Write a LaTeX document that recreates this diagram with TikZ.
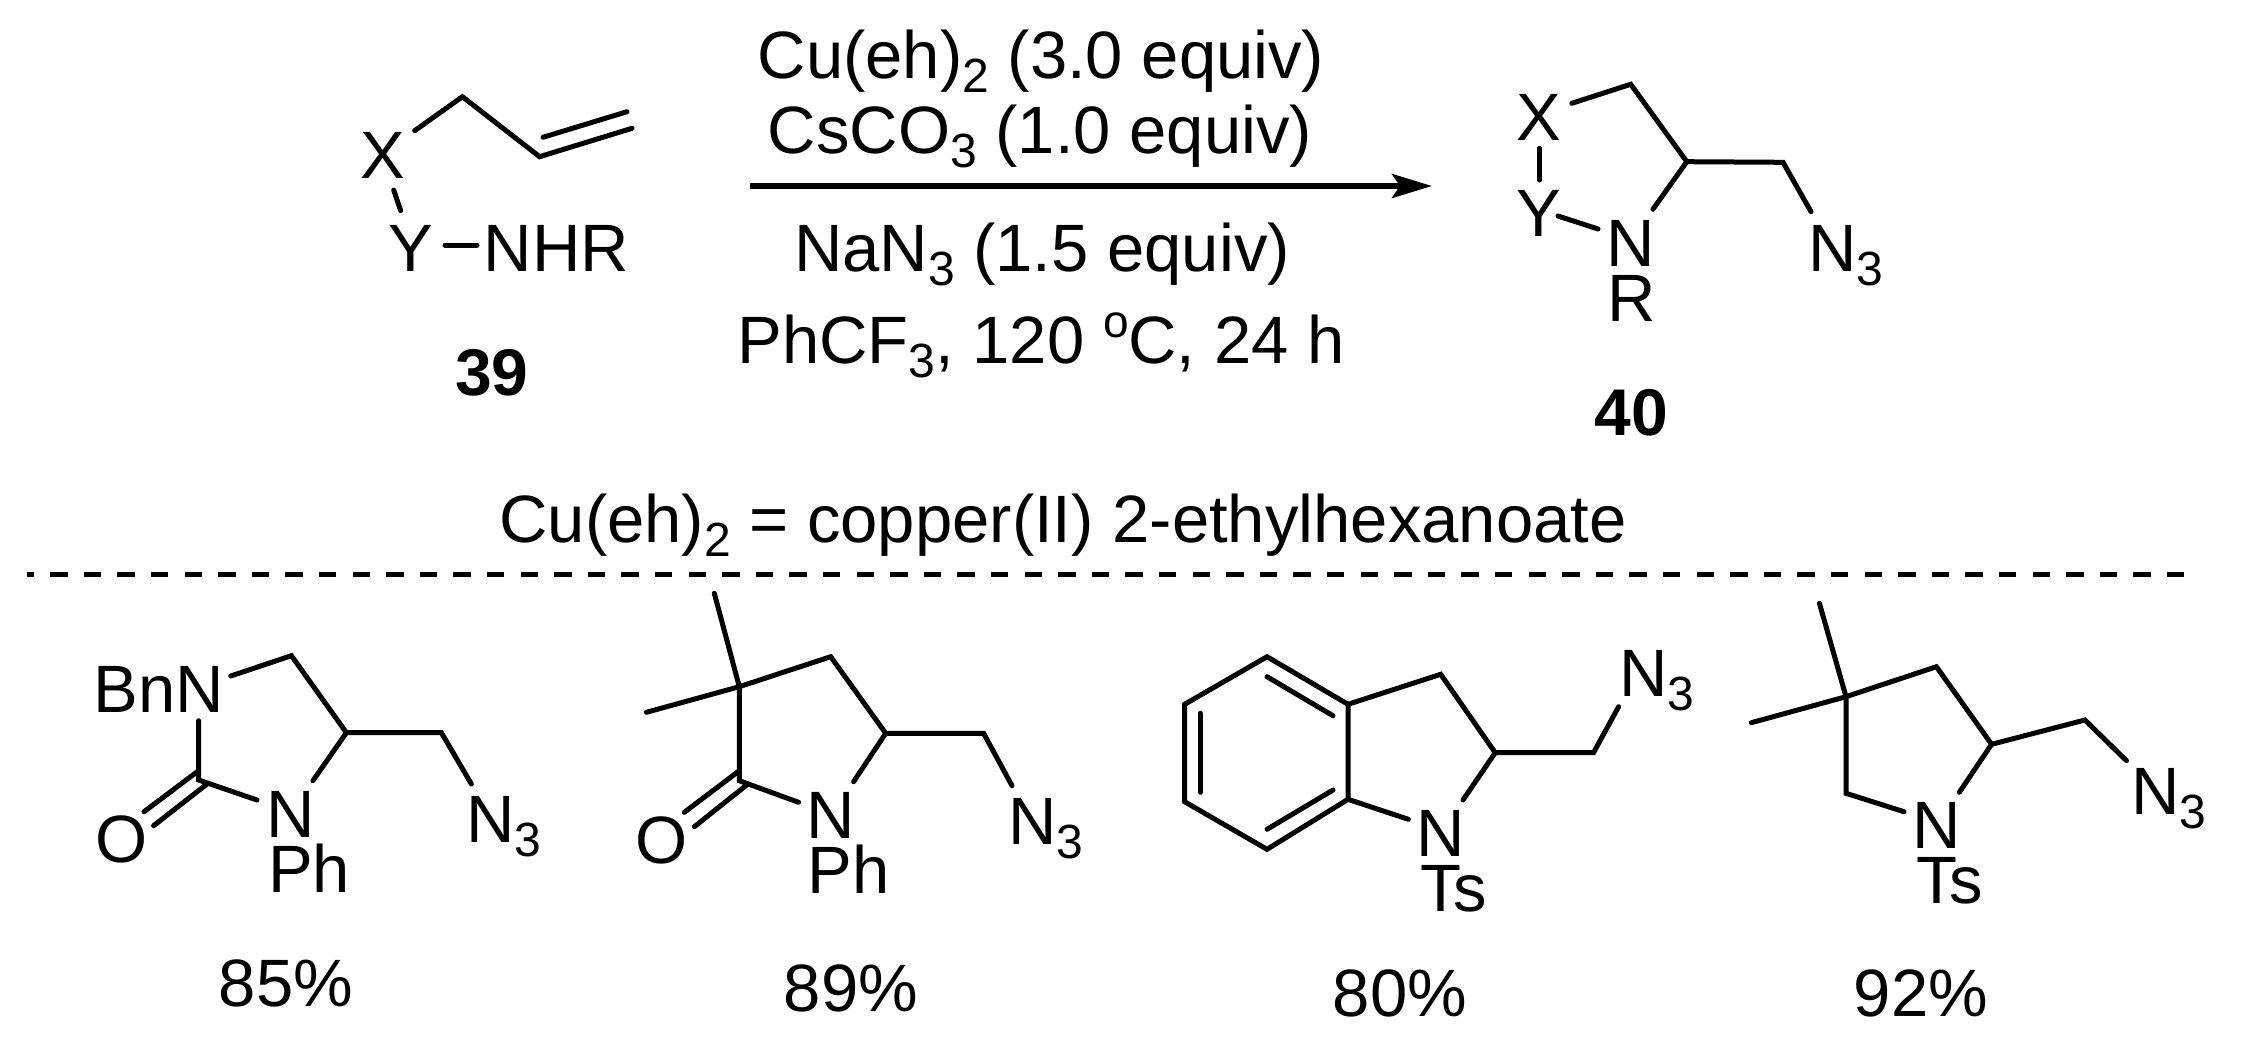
\documentclass[tikz,border=0pt]{standalone}
\usepackage{fontspec}
\setmainfont{Liberation Sans}
\usetikzlibrary{arrows.meta}
\newcommand{\subs}[1]{\raisebox{-14pt}{\fontsize{48}{48}\selectfont #1}}
\newcommand{\degr}{\raisebox{26pt}{\fontsize{46}{46}\selectfont o}}
\tikzset{
  lbl/.style={inner sep=0pt,outer sep=0pt,anchor=base,font=\fontsize{67}{67}\selectfont},
  lblw/.style={lbl,anchor=base west},
  cmpd/.style={lbl,font=\fontsize{66}{66}\selectfont\bfseries},
  bond/.style={line width=5pt,line cap=round,line join=miter,black},
  rxn/.style={line width=5.6pt,-{Stealth[length=40pt,width=24pt,inset=8pt]}},
  sep/.style={line width=5.3pt,dash pattern=on 17.5pt off 16.1pt,dash phase=10.5pt}
}
\begin{document}
\begin{tikzpicture}[x=1pt,y=-1pt]
\useasboundingbox (0,0) rectangle (2245,1050);
\fill[white] (0,0) rectangle (2245,1050);

% --- reactant 39
\node[lbl] (x39) at (383,178) {X};
\node[lbl] (y39) at (411,271) {Y};
\node[lbl] (nhr) at (556.5,271) {NHR};
\node[cmpd] (c39) at (492,395) {39};
\coordinate (a1) at (414.7,130.7);
\coordinate (a2) at (462.4,96.7);
\coordinate (a3) at (539.6,156.7);
\coordinate (a4) at (632,128.3);
\coordinate (a5) at (543,137.3);
\coordinate (a6) at (627,111.7);
\coordinate (a7) at (393.7,190);
\coordinate (a8) at (400.7,210.7);
\coordinate (a9) at (445,245);
\coordinate (a10) at (477,245);
\draw[bond] (a1) -- (a2) -- (a3) -- (a4);
\draw[bond] (a5) -- (a6);
\draw[bond] (a7) -- (a8);
\draw[bond] (a9) -- (a10);

% --- conditions
\node[lbl] (t1) at (1041,78) {Cu(eh)\subs{2} (3.0 equiv)};
\node[lbl] (t2) at (1040,153) {CsCO\subs{3} (1.0 equiv)};
\node[lbl] (t3) at (1042,271) {NaN\subs{3} (1.5 equiv)};
\node[lbl] (t4) at (1041,363) {PhCF\subs{3}, 120 \degr C, 24 h};
\coordinate (r1) at (750,186);
\coordinate (r2) at (1432,186);
\draw[rxn] (r1) -- (r2);

% --- product 40
\node[lbl] (x40) at (1539,140.7) {X};
\node[lbl] (y40) at (1539,236.7) {Y};
\node[lbl] (n40) at (1630.5,266) {N};
\node[lbl] (r40) at (1632,321) {R};
\node[lblw] (az40) at (1808,271) {N\subs{3}};
\node[cmpd] (c40) at (1631,435) {40};
\coordinate (b1) at (1571.8,103.3);
\coordinate (b2) at (1630.7,84.3);
\coordinate (b3) at (1686.8,161.7);
\coordinate (b4) at (1783,162.3);
\coordinate (b5) at (1811,211.7);
\coordinate (b6) at (1652.9,209.3);
\coordinate (b7) at (1539.6,148.3);
\coordinate (b8) at (1539.6,180);
\coordinate (b9) at (1558,216);
\coordinate (b10) at (1598,229);
\draw[bond] (b1) -- (b2) -- (b3) -- (b4) -- (b5);
\draw[bond] (b3) -- (b6);
\draw[bond] (b7) -- (b8);
\draw[bond] (b9) -- (b10);

% --- footnote and separator
\node[lbl] (note) at (1063,542.5) {Cu(eh)\subs{2} = copper(II) 2-ethylhexanoate};
\coordinate (s1) at (27,574.3);
\coordinate (s2) at (2183.5,574.3);
\draw[sep] (s1) -- (s2);

% --- substrate 1
\node[lbl] (bnn) at (159,712.7) {BnN};
\node[lbl] (o1) at (122,862) {O};
\node[lbl] (n1) at (291,837) {N};
\node[lbl] (ph1) at (309,892) {Ph};
\node[lblw] (az1) at (466,842.7) {N\subs{3}};
\node[lbl] (y1) at (286,1006) {85\%};
\coordinate (c1) at (230.7,676);
\coordinate (c2) at (291.4,655.7);
\coordinate (c3) at (346.4,732.7);
\coordinate (c4) at (441.4,732.7);
\coordinate (c5) at (471.4,784);
\coordinate (c6) at (312.9,780.7);
\coordinate (c7) at (198.6,720.7);
\coordinate (c8) at (198.6,780);
\coordinate (c9) at (257,800);
\coordinate (c10) at (198.6,770.7);
\coordinate (c11) at (144,811.7);
\coordinate (c12) at (207,784);
\coordinate (c13) at (153.6,825.7);
\draw[bond] (c1) -- (c2) -- (c3) -- (c4) -- (c5);
\draw[bond] (c3) -- (c6);
\draw[bond] (c7) -- (c8) -- (c9);
\draw[bond] (c10) -- (c11);
\draw[bond] (c12) -- (c13);

% --- substrate 2
\node[lbl] (o2) at (661.5,863) {O};
\node[lbl] (n2) at (831,838) {N};
\node[lbl] (ph2) at (848.5,893) {Ph};
\node[lblw] (az2) at (1008,844) {N\subs{3}};
\node[lbl] (y2) at (851,1011) {89\%};
\coordinate (d1) at (714.3,593.3);
\coordinate (d2) at (739.3,686.7);
\coordinate (d3) at (646.4,712.3);
\coordinate (d4) at (830.7,656.7);
\coordinate (d5) at (885.7,733.3);
\coordinate (d6) at (983.6,733.3);
\coordinate (d7) at (1012,785.7);
\coordinate (d8) at (853.6,781.7);
\coordinate (d9) at (739.3,780.7);
\coordinate (d10) at (798.6,802.3);
\coordinate (d11) at (739.3,770.7);
\coordinate (d12) at (684.3,812.3);
\coordinate (d13) at (747.9,784);
\coordinate (d14) at (694.3,826.7);
\draw[bond] (d1) -- (d2);
\draw[bond] (d3) -- (d2) -- (d4) -- (d5) -- (d6) -- (d7);
\draw[bond] (d5) -- (d8);
\draw[bond] (d2) -- (d9) -- (d10);
\draw[bond] (d11) -- (d12);
\draw[bond] (d13) -- (d14);

% --- substrate 3
\node[lbl] (n3) at (1440.6,856.7) {N};
\node[lbl] (ts3) at (1453.5,911.7) {Ts};
\node[lblw] (az3) at (1619,696.7) {N\subs{3}};
\node[lbl] (y3) at (1400,1016.7) {80\%};
\coordinate (e1) at (1267,656.7);
\coordinate (e2) at (1348,704.3);
\coordinate (e3) at (1348,799.3);
\coordinate (e4) at (1267,849.3);
\coordinate (e5) at (1184.6,801.7);
\coordinate (e6) at (1184.6,704.3);
\coordinate (e7) at (1267,676.7);
\coordinate (e8) at (1333,715.7);
\coordinate (e9) at (1200.3,713.3);
\coordinate (e10) at (1200.3,792.3);
\coordinate (e11) at (1267,829.3);
\coordinate (e12) at (1333,790);
\coordinate (e13) at (1440.7,674.3);
\coordinate (e14) at (1495.2,752.7);
\coordinate (e15) at (1593.5,752.7);
\coordinate (e16) at (1618.6,706.7);
\coordinate (e17) at (1463,800);
\coordinate (e18) at (1408.4,819.3);
\draw[bond] (e1) -- (e2) -- (e3) -- (e4) -- (e5) -- (e6) -- cycle;
\draw[bond] (e7) -- (e8);
\draw[bond] (e9) -- (e10);
\draw[bond] (e11) -- (e12);
\draw[bond] (e2) -- (e13) -- (e14) -- (e15) -- (e16);
\draw[bond] (e14) -- (e17);
\draw[bond] (e3) -- (e18);

% --- substrate 4
\node[lbl] (n4) at (1937,848.3) {N};
\node[lbl] (ts4) at (1949.5,903.3) {Ts};
\node[lblw] (az4) at (2131.5,814) {N\subs{3}};
\node[lbl] (y4) at (1921,1016.7) {92\%};
\coordinate (f1) at (1819.4,603.3);
\coordinate (f2) at (1846,696.7);
\coordinate (f3) at (1751.3,722.7);
\coordinate (f4) at (1936.4,666.7);
\coordinate (f5) at (1991.6,744.3);
\coordinate (f6) at (2084.9,720);
\coordinate (f7) at (2126.5,760.7);
\coordinate (f8) at (1959.3,792.3);
\coordinate (f9) at (1846,793.3);
\coordinate (f10) at (1904,811.7);
\draw[bond] (f1) -- (f2);
\draw[bond] (f3) -- (f2) -- (f4) -- (f5) -- (f6) -- (f7);
\draw[bond] (f5) -- (f8);
\draw[bond] (f2) -- (f9) -- (f10);
\end{tikzpicture}
\end{document}
